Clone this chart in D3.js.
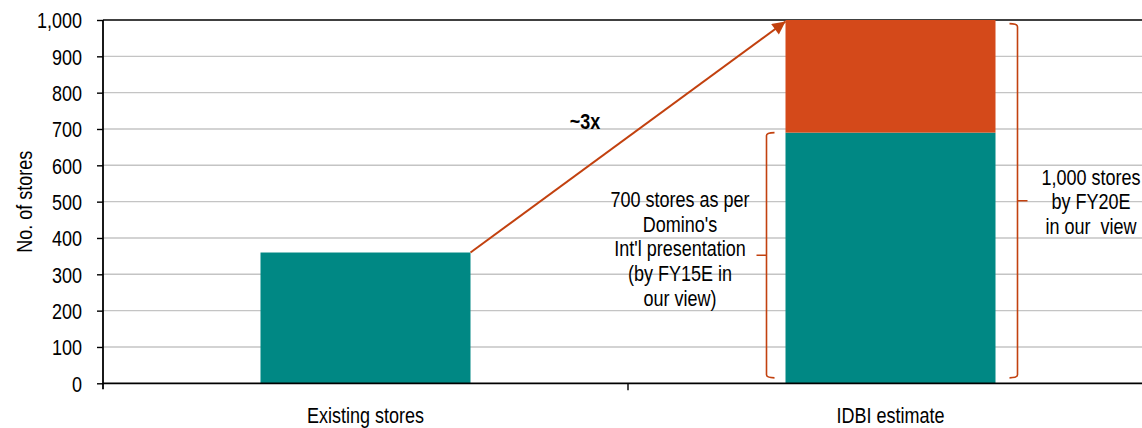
<!DOCTYPE html>
<html>
<head>
<meta charset="utf-8">
<script src="https://cdn.jsdelivr.net/npm/d3@7"></script>
<style>
  body { margin: 0; background: #fff; }
  svg text { font-family: "Liberation Sans", Arial, sans-serif; fill: #000; }
</style>
</head>
<body>
<svg id="chart" width="1142" height="428"></svg>
<script>
// Store counts per scenario
const categories = ["Existing stores", "IDBI estimate"];
const presentationStores = [360, 690];   // teal segment
const additionalStores = [0, 310];       // orange segment on top
const yTicks = [0, 100, 200, 300, 400, 500, 600, 700, 800, 900, 1000];
const yTitle = "No. of stores";
const growthLabel = "~3x";
const noteLeft = ["700 stores as per", "Domino's", "Int'l presentation", "(by FY15E in", "our view)"];
const noteRight = ["1,000 stores", "by FY20E", "in our  view"];
const braceLeftSpan = [15, 690];
const braceRightSpan = [15, 990];

const teal = "#008884";
const orange = "#D4491A";
const accent = "#C2410F";
const FS = 22.5;      // font size
const SX = 0.8;       // horizontal squeeze for a narrow typeface look

const svg = d3.select("#chart");
const W = 1142, H = 428;
const plotL = 103, plotR = 1153, plotT = 20, plotB = 383.3;

const x = d3.scaleBand().domain(categories).range([plotL, plotR]).paddingInner(0).paddingOuter(0);
const y = d3.scaleLinear().domain([0, 1000]).range([plotB, plotT]);
const barW = x.bandwidth() * 0.4;
const barX = c => x(c) + (x.bandwidth() - barW) / 2;

// narrow multi-line text block centred on (cx, y0)
function narrowText(parent, cx, y0, lines, lineGap, extra) {
  const t = parent.append("g").attr("transform", `translate(${cx},${y0})`)
    .append("text").attr("transform", `scale(${SX},1)`)
    .attr("text-anchor", "middle").attr("font-size", FS)
    .style("white-space", "pre");
  if (extra) extra(t);
  t.selectAll("tspan").data(lines).join("tspan")
    .attr("x", 0).attr("y", (d, i) => i * lineGap).text(d => d);
  return t;
}

// horizontal gridlines
svg.append("g").selectAll("line")
  .data(yTicks.filter(t => t > 0 && t < 1000))
  .join("line")
  .attr("x1", plotL).attr("x2", W)
  .attr("y1", d => y(d)).attr("y2", d => y(d))
  .attr("stroke", "#C4C4C4").attr("stroke-width", 1.4);

// top frame line
svg.append("line")
  .attr("x1", plotL).attr("x2", W).attr("y1", y(1000)).attr("y2", y(1000))
  .attr("stroke", "#000").attr("stroke-width", 1.6);

// stacked bars
const rows = categories.map((c, i) => ({ c, base: presentationStores[i], extra: additionalStores[i] }));
svg.append("g").selectAll("rect")
  .data(rows).join("rect")
  .attr("x", d => barX(d.c)).attr("width", barW)
  .attr("y", d => y(d.base)).attr("height", d => y(0) - y(d.base))
  .attr("fill", teal);
svg.append("g").selectAll("rect")
  .data(rows.filter(d => d.extra > 0)).join("rect")
  .attr("x", d => barX(d.c)).attr("width", barW)
  .attr("y", d => y(d.base + d.extra)).attr("height", d => y(d.base) - y(d.base + d.extra))
  .attr("fill", orange);

// y axis
const yAxis = svg.append("g").attr("transform", `translate(${plotL},0)`)
  .call(d3.axisLeft(y).tickValues(yTicks).tickFormat(d3.format(",")).tickSize(6).tickPadding(15));
yAxis.select(".domain").attr("stroke", "#000").attr("stroke-width", 1.8)
  .attr("d", `M0,${plotT}V${plotB + 6}`);
yAxis.selectAll(".tick line").attr("stroke", "#000").attr("stroke-width", 1.4);
yAxis.selectAll(".tick text")
  .attr("font-size", FS).attr("font-family", null)
  .attr("x", -21 / SX).attr("dy", "0.35em")
  .attr("transform", `scale(${SX},1)`);

// x axis
const xAxis = svg.append("g").attr("transform", `translate(0,${plotB})`);
xAxis.append("line").attr("x1", plotL).attr("x2", W).attr("y1", 0).attr("y2", 0)
  .attr("stroke", "#000").attr("stroke-width", 1.8);
xAxis.selectAll(".sep").data(categories.slice(1)).join("line")
  .attr("x1", d => x(d)).attr("x2", d => x(d)).attr("y1", 0).attr("y2", 7)
  .attr("stroke", "#000").attr("stroke-width", 1.4);
categories.forEach(c => narrowText(svg, x(c) + x.bandwidth() / 2, 423, [c], 0));

// y title
svg.append("text")
  .attr("transform", `translate(32,${(plotT + plotB) / 2}) rotate(-90) scale(${SX},1)`)
  .attr("text-anchor", "middle").attr("font-size", FS).text(yTitle);

// growth arrow from existing bar top to estimate total
svg.append("defs").append("marker")
  .attr("id", "head").attr("viewBox", "0 0 10 10").attr("refX", 10).attr("refY", 5)
  .attr("markerUnits", "userSpaceOnUse").attr("markerWidth", 18).attr("markerHeight", 13)
  .attr("orient", "auto")
  .append("path").attr("d", "M0,0L10,5L0,10Z").attr("fill", accent);
const c0 = categories[0], c1 = categories[1];
svg.append("line")
  .attr("x1", barX(c0) + barW).attr("y1", y(presentationStores[0]))
  .attr("x2", barX(c1)).attr("y2", y(presentationStores[1] + additionalStores[1]) + 1.5)
  .attr("stroke", accent).attr("stroke-width", 2).attr("marker-end", "url(#head)");
narrowText(svg, 585, 129, [growthLabel], 0, t => t.attr("font-weight", "bold"));

// curly-bracket markers
function brace(xPos, span, dir) {
  // dir = -1: point left (hooks to the right), +1: point right (hooks to the left)
  const y0 = y(span[1]), y1 = y(span[0]), ym = (y0 + y1) / 2;
  const h = -dir * 8, t = dir * 10;
  return `M${xPos + h},${y0} Q${xPos},${y0} ${xPos},${y0 + 3} L${xPos},${y1 - 3} Q${xPos},${y1} ${xPos + h},${y1}` +
         ` M${xPos},${ym} L${xPos + t},${ym}`;
}
svg.append("path").attr("d", brace(barX(c1) - 19, braceLeftSpan, -1))
  .attr("fill", "none").attr("stroke", accent).attr("stroke-width", 1.6);
svg.append("path").attr("d", brace(barX(c1) + barW + 22, braceRightSpan, 1))
  .attr("fill", "none").attr("stroke", accent).attr("stroke-width", 1.6);

// annotation notes
narrowText(svg, 680, 207, noteLeft, 24.7);
narrowText(svg, 1091, 185, noteRight, 24.5);
</script>
</body>
</html>
